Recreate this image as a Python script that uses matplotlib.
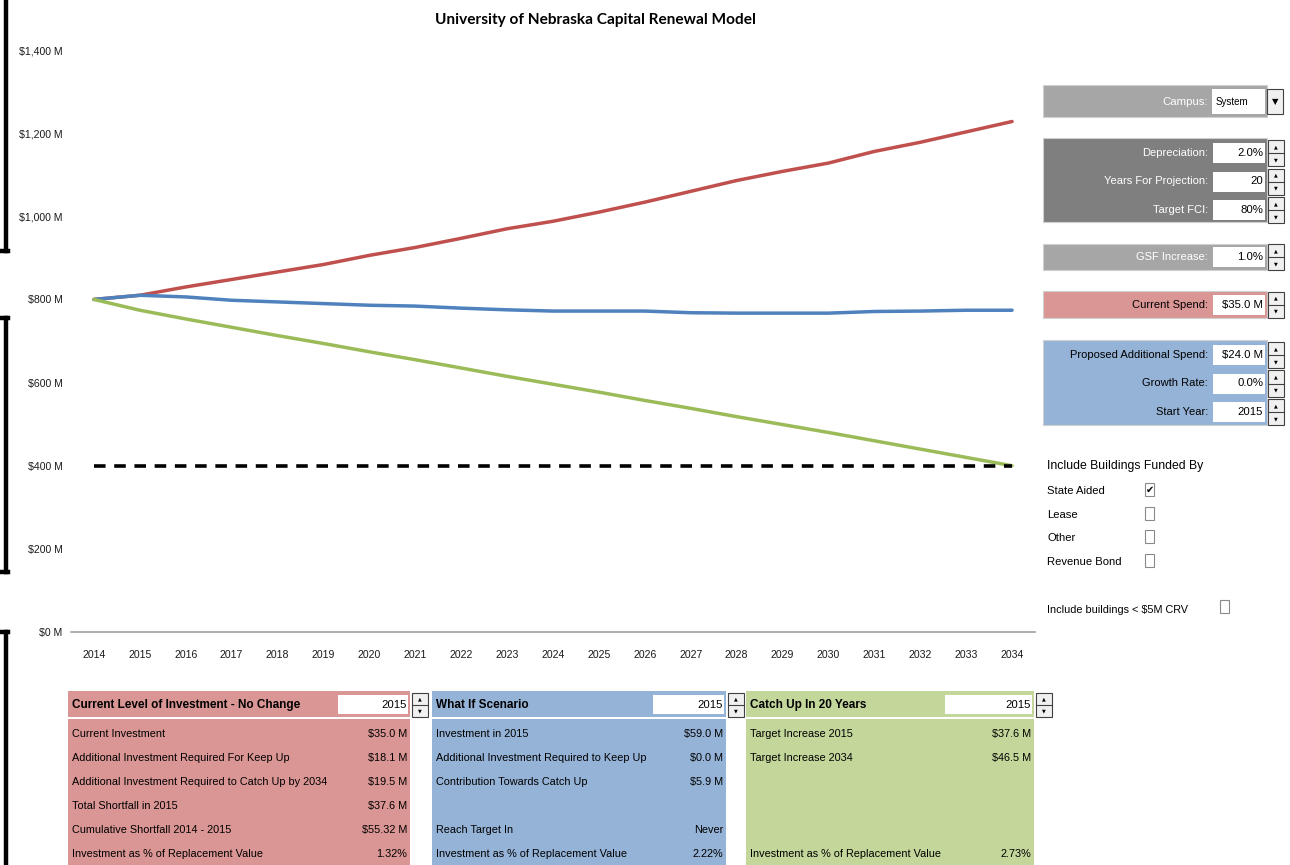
import matplotlib
matplotlib.use("Agg")
import matplotlib.pyplot as plt
from matplotlib.patches import Rectangle
from matplotlib.lines import Line2D

# ---- data ----
years = list(range(2014, 2035))
current_spend = [800, 810, 830, 848, 866, 884, 906, 925, 947, 970, 988, 1010,
                 1034, 1060, 1086, 1108, 1128, 1156, 1178, 1203, 1228]
what_if = [800, 810, 806, 798, 794, 790, 786, 784, 779, 775, 772, 772,
           772, 768, 767, 767, 767, 771, 772, 774, 774]
catch_up = [800, 774, 753, 733, 713, 694, 674, 655, 635, 615, 596, 577,
            557, 538, 518, 499, 480, 460, 440, 420, 400]
target = [400] * len(years)
yticks = [0, 200, 400, 600, 800, 1000, 1200, 1400]
ytick_labels = ["$0 M", "$200 M", "$400 M", "$600 M", "$800 M",
                "$1,000 M", "$1,200 M", "$1,400 M"]

# right hand controls
ctrl_campus = ("Campus:", "System")
ctrl_dark = [("Depreciation:", "2.0%"), ("Years For Projection:", "20"), ("Target FCI:", "80%")]
ctrl_gsf = [("GSF Increase:", "1.0%")]
ctrl_spend = [("Current Spend:", "$35.0 M")]
ctrl_blue = [("Proposed Additional Spend:", "$24.0 M"), ("Growth Rate:", "0.0%"), ("Start Year:", "2015")]
funded_by = [("State Aided", True), ("Lease", False), ("Other", False), ("Revenue Bond", False)]

# bottom tables
red_title = "Current Level of Investment - No Change"
red_rows = [("Current Investment", "$35.0 M"),
            ("Additional Investment Required For Keep Up", "$18.1 M"),
            ("Additional Investment Required to Catch Up by 2034", "$19.5 M"),
            ("Total Shortfall in 2015", "$37.6 M"),
            ("Cumulative Shortfall 2014 - 2015", "$55.32 M"),
            ("Investment as % of Replacement Value", "1.32%")]
blue_title = "What If Scenario"
blue_rows = [("Investment in 2015", "$59.0 M"),
             ("Additional Investment Required to Keep Up", "$0.0 M"),
             ("Contribution Towards Catch Up", "$5.9 M"),
             ("", ""),
             ("Reach Target In", "Never"),
             ("Investment as % of Replacement Value", "2.22%")]
green_title = "Catch Up In 20 Years"
green_rows = [("Target Increase 2015", "$37.6 M"),
              ("Target Increase 2034", "$46.5 M"),
              ("", ""), ("", ""), ("", ""),
              ("Investment as % of Replacement Value", "2.73%")]
table_year = "2015"

W, H = 1290, 865
NARROW = ["Liberation Sans", "DejaVu Sans"]
RED, BLUE, GREEN = "#da9694", "#95b3d7", "#c4d79b"

fig = plt.figure(figsize=(W / 100, H / 100), dpi=100)
fig.patch.set_facecolor("white")


def fx(x):
    return x / W


def fy(y):
    return 1 - y / H


def rect(x0, y0, x1, y1, fc, ec="none", lw=0.0):
    fig.patches.append(Rectangle((fx(x0), fy(y1)), fx(x1) - fx(x0), fy(y0) - fy(y1),
                                 transform=fig.transFigure, facecolor=fc,
                                 edgecolor=ec, linewidth=lw, zorder=1))


def txt(x, y, s, ha="left", size=8, color="black", weight="normal", family=NARROW):
    fig.text(fx(x), fy(y), s, ha=ha, va="center", fontsize=size, color=color,
             weight=weight, family=family, zorder=5)


def spinner(x, yc, h=26):
    rect(x, yc - h / 2, x + 16, yc + h / 2, "#f0f0f0", ec="#404040", lw=0.8)
    fig.lines.append(Line2D([fx(x), fx(x + 16)], [fy(yc), fy(yc)],
                            transform=fig.transFigure, color="#404040", lw=0.8))
    txt(x + 8, yc - h / 4, "\u25b2", ha="center", size=3.5, family=["DejaVu Sans"])
    txt(x + 8, yc + h / 4, "\u25bc", ha="center", size=3.5, family=["DejaVu Sans"])


# ---- the chart ----
ax = fig.add_axes([fx(71), fy(632), fx(1035) - fx(71), fy(50) - fy(632)])
ax.plot(years, current_spend, color="#c0504d", lw=2.5, solid_capstyle="round")
ax.plot(years, what_if, color="#4f81bd", lw=2.5, solid_capstyle="round")
ax.plot(years, catch_up, color="#9bbb59", lw=2.5, solid_capstyle="round")
ax.plot(years, target, color="black", lw=2.6, dashes=(3.2, 2.4))
ax.set_xlim(2013.5, 2034.5)
ax.set_ylim(0, 1400)
ax.set_xticks(years)
ax.set_xticklabels([str(y) for y in years], family=NARROW, fontsize=7.6)
ax.set_yticks(yticks)
ax.set_yticklabels(ytick_labels, family=NARROW, fontsize=7.6)
ax.tick_params(axis="x", length=0, pad=13, colors="#1a1a1a")
ax.tick_params(axis="y", length=0, pad=6, colors="#1a1a1a")
for s in ["top", "right", "left"]:
    ax.spines[s].set_visible(False)
ax.spines["bottom"].set_color("#a0a0a0")
ax.spines["bottom"].set_linewidth(1.2)
ax.patch.set_alpha(0)

txt(595, 20, "University of Nebraska Capital Renewal Model", ha="center", size=11.1,
    weight="bold", family=["Lato", "DejaVu Sans"])

# ---- left edge brackets ----
for (y0, y1, top, bottom) in [(0, 251, False, True), (318, 572, True, True), (632, 865, True, False)]:
    fig.lines.append(Line2D([fx(6), fx(6)], [fy(y0), fy(y1)], transform=fig.transFigure,
                            color="black", lw=3.2))
    if top:
        fig.lines.append(Line2D([fx(0), fx(7.5)], [fy(y0), fy(y0)], transform=fig.transFigure,
                                color="black", lw=3.2))
    if bottom:
        fig.lines.append(Line2D([fx(0), fx(7.5)], [fy(y1), fy(y1)], transform=fig.transFigure,
                                color="black", lw=3.2))

# ---- right hand controls ----
rect(1043, 85, 1267, 117, "#a6a6a6", ec="#d0d0d0", lw=0.8)
txt(1208, 102, ctrl_campus[0], ha="right", color="white", size=8.2)
rect(1212, 89, 1265, 114, "white")
txt(1216, 102, ctrl_campus[1], size=7)
rect(1267, 89, 1283, 114, "#f0f0f0", ec="#404040", lw=0.8)
txt(1275, 102, "\u25bc", ha="center", size=6, family=["DejaVu Sans"])


def ctrl_group(y0, y1, rows, fc, tc, step=28.5):
    rect(1043, y0, 1267, y1, fc, ec="#d0d0d0", lw=0.8)
    first = y0 + 15 if len(rows) > 1 else (y0 + y1) / 2
    for i, (lab, val) in enumerate(rows):
        yc = first + i * step
        txt(1208, yc, lab, ha="right", color=tc, size=8.0)
        rect(1213, yc - 10, 1265, yc + 10, "white")
        txt(1263, yc, val, ha="right", size=8.2)
        spinner(1268, yc)


ctrl_group(138, 222, ctrl_dark, "#7f7f7f", "white")
ctrl_group(244, 270, ctrl_gsf, "#a6a6a6", "white")
ctrl_group(291, 318, ctrl_spend, RED, "black")
ctrl_group(340, 425, ctrl_blue, BLUE, "black")

txt(1047, 466, "Include Buildings Funded By", size=8.8)
for i, (lab, on) in enumerate(funded_by):
    yc = 491 + i * 23.7
    txt(1047, yc, lab, size=8.1)
    rect(1145, yc - 8, 1154, yc + 5, "white", ec="#8a8a8a", lw=0.8)
    if on:
        txt(1149.5, yc - 1.5, "\u2714", ha="center", size=7, family=["DejaVu Sans"])
txt(1047, 610, "Include buildings < $5M CRV", size=7.8)
rect(1220, 600, 1229, 613, "white", ec="#8a8a8a", lw=0.8)


# ---- bottom tables ----
def table(x0, x1, box0, title, rows, fc):
    rect(x0, 691, x1, 717, fc)
    rect(x0, 719, x1, 865, fc)
    txt(x0 + 4, 705, title, size=8.5, weight="bold")
    rect(box0, 695, x1 - 2, 714, "white")
    txt(x1 - 3, 705, table_year, ha="right", size=8.2)
    spinner(x1 + 2, 705, h=24)
    for i, (lab, val) in enumerate(rows):
        yc = 734 + i * 24
        if lab:
            txt(x0 + 4, yc, lab, size=7.8)
            txt(x1 - 3, yc, val, ha="right", size=7.8)


table(68, 410, 338, red_title, red_rows, RED)
table(432, 726, 653, blue_title, blue_rows, BLUE)
table(746, 1034, 945, green_title, green_rows, GREEN)

fig.savefig("out.png", dpi=100)
